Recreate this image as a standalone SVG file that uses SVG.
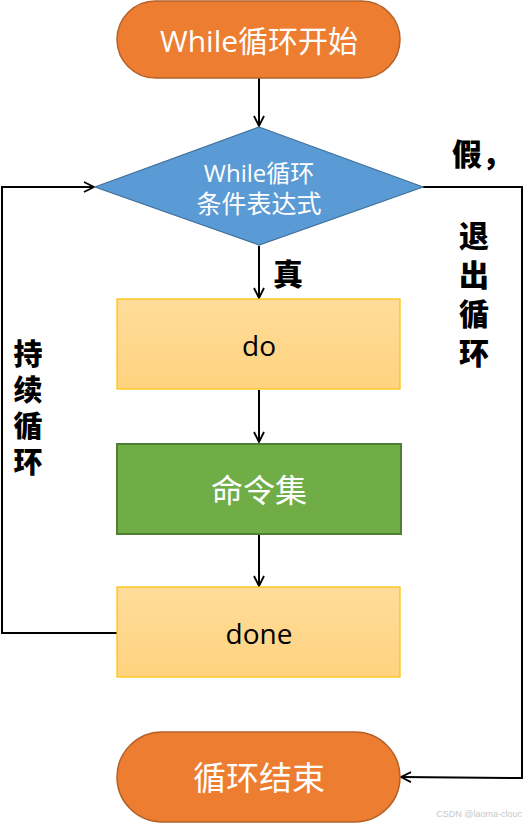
<svg xmlns="http://www.w3.org/2000/svg" width="526" height="824" viewBox="0 0 526 824">
<style>
.t{font-family:"Open Sans","Noto Sans CJK SC",sans-serif;text-anchor:middle;dominant-baseline:central}
.w{fill:#fff}
.k{fill:#000}
.b{font-family:"Noto Sans CJK SC",sans-serif;font-weight:900;fill:#000;text-anchor:middle;dominant-baseline:central}
.v{font-family:"Noto Sans CJK SC",sans-serif;font-weight:900;fill:#000;writing-mode:vertical-rl;text-anchor:start}
.pill{fill:#ED7D31;stroke:#B4622A;stroke-width:1.5}
.yel{fill:url(#yg);stroke:#FFC000;stroke-width:1.2}
.ln{fill:none;stroke:#000;stroke-width:2}
</style>
<defs>
<linearGradient id="yg" x1="0" y1="0" x2="0" y2="1">
<stop offset="0" stop-color="#FFDC9A"/>
<stop offset="1" stop-color="#FFD37F"/>
</linearGradient>
<marker id="ar" viewBox="0 0 12 12" refX="11" refY="6" markerWidth="12" markerHeight="12" markerUnits="userSpaceOnUse" orient="auto">
<path d="M1,1 L11,6 L1,11" fill="none" stroke="#000" stroke-width="1.8"/>
</marker>
</defs>
<g id="connectors">
<line class="ln" x1="259" y1="78" x2="259" y2="126" marker-end="url(#ar)"/>
<line class="ln" x1="259" y1="246" x2="259" y2="298" marker-end="url(#ar)"/>
<line class="ln" x1="259" y1="390" x2="259" y2="442" marker-end="url(#ar)"/>
<line class="ln" x1="259" y1="535" x2="259" y2="586" marker-end="url(#ar)"/>
<polyline class="ln" points="117,633 2,633 2,187 94,187" marker-end="url(#ar)"/>
<polyline class="ln" points="423,187 522,187 522,778 401,777" marker-end="url(#ar)"/>
<text class="b" x="288" y="272" font-size="30">真</text>
<text class="b" x="482" y="152" font-size="30">假，</text>
<text class="v" x="474" y="221" font-size="30" letter-spacing="9">退出循环</text>
<text class="v" x="28" y="339" font-size="29" letter-spacing="7">持续循环</text>
</g>
<g id="start">
<rect class="pill" x="117" y="1" width="283" height="77" rx="38.5"/>
<text class="t w" x="259" y="40" font-size="30">While循环开始</text>
</g>
<g id="cond">
<polygon points="259,127 423,187 259,245 95,187" fill="#5B9BD5" stroke="#41719C" stroke-width="1.2"/>
<text class="t w" x="259" y="172" font-size="24">While循环</text>
<text class="t w" x="259" y="203" font-size="25">条件表达式</text>
</g>
<g id="do">
<rect class="yel" x="117" y="299" width="283" height="90"/>
<text class="t k" x="259" y="345" font-size="28">do</text>
</g>
<g id="cmds">
<rect x="117" y="444" width="284" height="90" fill="#70AD47" stroke="#507E32" stroke-width="2"/>
<text class="t w" x="259" y="489" font-size="32">命令集</text>
</g>
<g id="done">
<rect class="yel" x="117" y="587" width="283" height="90"/>
<text class="t k" x="259" y="633" font-size="28">done</text>
</g>
<g id="end">
<rect class="pill" x="117" y="732" width="283" height="90" rx="45"/>
<text class="t w" x="259" y="777" font-size="33">循环结束</text>
</g>
<text x="522" y="817" font-family="Liberation Sans,sans-serif" font-size="9" fill="#C8C8C8" text-anchor="end">CSDN @laoma-clouc</text>
</svg>
